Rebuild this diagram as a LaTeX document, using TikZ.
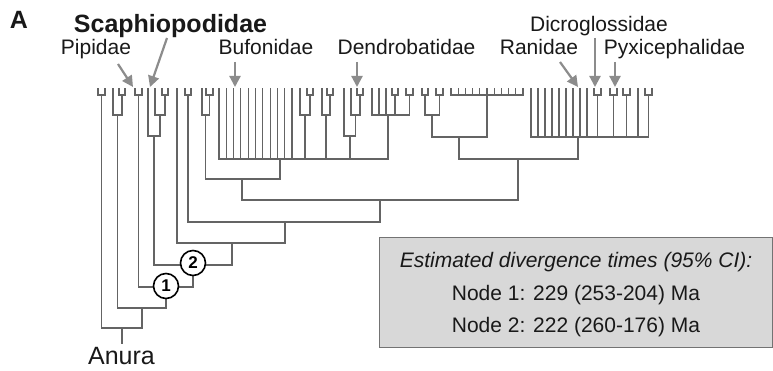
\documentclass[tikz,border=0pt]{standalone}
\usepackage{fontspec}
\setmainfont{Liberation Sans}
\usetikzlibrary{arrows.meta}
\definecolor{treecol}{RGB}{100,100,100}
\definecolor{arrcol}{RGB}{140,140,140}
\definecolor{boxfill}{RGB}{216,216,216}
\definecolor{boxline}{RGB}{115,115,115}
\definecolor{txt}{RGB}{25,25,25}
\newcommand\vl[3]{\draw[br] (#1,#2) -- (#1,#3);}
\newcommand\hl[3]{\draw[br] (#2,#1) -- (#3,#1);}
\newcommand\frk[3]{\draw[br] (#1,89) |- (#2,95) -- (#2,89); \draw[br] ({(#1+#2)/2},95) -- ({(#1+#2)/2},#3);}
\begin{document}
\begin{tikzpicture}[x=1pt,y=-1pt,
  br/.style={draw=treecol,line width=1.1pt,line cap=rect},
  ar/.style={draw=arrcol,line width=2.2pt,-{Triangle[length=11pt,width=11pt]}},
  lab/.style={anchor=base,inner sep=0pt,text=txt,font=\fontsize{21}{24}\selectfont},
  biglab/.style={anchor=base,inner sep=0pt,text=txt,font=\fontsize{25}{28}\selectfont},
  circ/.style={circle,draw=black,line width=1.6pt,fill=white,minimum size=25pt,inner sep=0pt,font=\bfseries\fontsize{17}{17}\selectfont},
  boxtext/.style={anchor=base,inner sep=0pt,text=txt,font=\fontsize{21}{24}\selectfont}]
\useasboundingbox (0,0) rectangle (773,371);
\fill[white] (0,0) rectangle (773,371);

% ---- tree ----
% A
\frk{98}{105}{328}
% B
\vl{113}{89}{115} \frk{119}{125}{115} \hl{115}{113}{122} \vl{117.5}{115}{308}
% C (Pipidae)
\frk{135}{142}{287}
% D (Scaphiopodidae)
\vl{148}{89}{136} \vl{155}{89}{115} \frk{162}{168}{115} \hl{115}{155}{165}
\vl{160}{115}{136} \hl{136}{148}{160} \vl{154}{136}{265}
% E
\vl{177}{89}{243}
% F
\frk{185}{191}{222}
% G
\vl{202}{89}{115} \frk{206}{213}{115} \hl{115}{202}{209.5} \vl{205.5}{115}{179}
% P1 polytomy
\foreach \x in {0,...,10}{\vl{219+7.3*\x}{89}{159}}
\vl{300}{89}{115} \frk{307}{313}{115} \hl{115}{300}{310} \vl{305}{115}{159}
\vl{322}{89}{115} \frk{327}{333}{115} \hl{115}{322}{330} \vl{326}{115}{159}
\vl{344}{89}{136} \vl{351}{89}{115} \frk{357}{363}{115} \hl{115}{351}{360}
\vl{355.5}{115}{136} \hl{136}{344}{355.5} \vl{350}{136}{159}
\foreach \x in {372,379,386}{\vl{\x}{89}{115}}
\frk{392}{398}{115} \frk{406}{413}{115} \hl{115}{372}{409.5} \vl{388}{115}{159}
\hl{159}{219}{388} \vl{280}{159}{179}
\hl{179}{205.5}{280} \vl{242}{179}{200}
% Q1
\frk{422}{428}{115} \frk{436}{443}{115} \hl{115}{425}{439.5} \vl{432}{115}{137}
\foreach \x in {0,...,10}{\vl{451+7.2*\x}{89}{95}}
\hl{95}{451}{523} \vl{487}{95}{137}
\hl{137}{432}{487} \vl{459}{137}{159}
% Q2
\foreach \x in {0,...,8}{\vl{531+7*\x}{89}{137}}
\frk{594}{601}{137} \frk{610}{617}{137} \frk{623}{630}{137} \vl{638}{89}{137} \frk{645}{652}{137}
\hl{137}{531}{648.5} \vl{578}{137}{159}
\hl{159}{459}{578} \vl{518}{159}{200}
% backbone
\hl{200}{242}{518} \vl{380}{200}{222}
\hl{222}{188}{380} \vl{285}{222}{243}
\hl{243}{177}{285} \vl{232}{243}{265}
\hl{265}{154}{232} \vl{193}{265}{287}
\hl{287}{138.5}{193} \vl{166}{287}{308}
\hl{308}{117.5}{166} \vl{142}{308}{328}
\hl{328}{101.5}{142} \vl{122}{328}{343}

% node circles
\node[circ] (c2) at (193,263) {2};
\node[circ] (c1) at (166,286) {1};

% ---- labels ----
\node[anchor=base,inner sep=0pt,text=txt,font=\bfseries\fontsize{25}{28}\selectfont] (lA) at (19,29) {A};
\node[biglab,font=\bfseries\fontsize{25}{28}\selectfont] (lScaph) at (170.5,33) {Scaphiopodidae};
\node[lab] (lPip) at (96,55) {Pipidae};
\node[lab] (lBuf) at (266,55) {Bufonidae};
\node[lab] (lDen) at (406.5,55) {Dendrobatidae};
\node[lab] (lRan) at (539,55) {Ranidae};
\node[lab] (lDic) at (599,32) {Dicroglossidae};
\node[lab] (lPyx) at (674.5,55) {Pyxicephalidae};
\node[biglab] (lAnura) at (121.5,364) {Anura};

% ---- arrows ----
\coordinate (pipS) at (118,64);  \coordinate (pipE) at (133,87);
\coordinate (scaS) at (167,38);  \coordinate (scaE) at (150,87);
\coordinate (bufS) at (235,62);  \coordinate (bufE) at (235,87);
\coordinate (denS) at (357,62);  \coordinate (denE) at (357,87);
\coordinate (ranS) at (560,62);  \coordinate (ranE) at (578,87);
\coordinate (dicS) at (595,38);  \coordinate (dicE) at (595,87);
\coordinate (pyxS) at (615,62);  \coordinate (pyxE) at (615,87);
\draw[ar] (pipS) -- (pipE);
\draw[ar] (scaS) -- (scaE);
\draw[ar] (bufS) -- (bufE);
\draw[ar] (denS) -- (denE);
\draw[ar] (ranS) -- (ranE);
\draw[ar] (dicS) -- (dicE);
\draw[ar] (pyxS) -- (pyxE);

% ---- box ----
\node[draw=boxline,fill=boxfill,line width=1.2pt,minimum width=393pt,minimum height=110pt,anchor=north west,inner sep=0pt] (box) at (379,237) {};
\node[boxtext,font=\itshape\fontsize{21}{24}\selectfont] (bt1) at (576,268) {Estimated divergence times (95\% CI):};
\node[boxtext] (bt2) at (576,300) {Node 1: 229 (253-204) Ma};
\node[boxtext] (bt3) at (576,332) {Node 2: 222 (260-176) Ma};
\end{tikzpicture}
\end{document}
